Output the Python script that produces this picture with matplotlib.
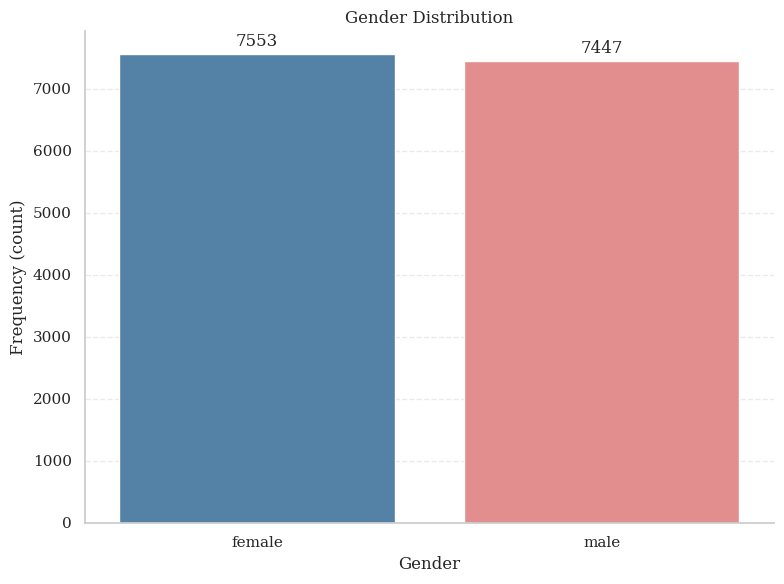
import matplotlib
matplotlib.use("Agg")
import matplotlib.pyplot as plt
import seaborn as sns
import pandas as pd

categories = ["female", "male"]
counts = [7553, 7447]
colors = ["steelblue", "lightcoral"]

sns.set_theme(style="whitegrid")
plt.rcParams['font.family'] = ['DejaVu Serif']

df = pd.DataFrame({"Gender": categories, "count": counts})
fig, ax = plt.subplots(figsize=(7.84, 5.84), dpi=100)
sns.barplot(data=df, x="Gender", y="count", hue="Gender", palette=colors, ax=ax, legend=False)
for p, v in zip(ax.patches, counts):
    ax.annotate(f"{v}", (p.get_x() + p.get_width() / 2, p.get_height()),
                ha="center", va="bottom", xytext=(0, 3), textcoords="offset points",
                fontsize=12, color="#262626")
ax.set_title("Gender Distribution", fontsize=12)
ax.set_xlabel("Gender", fontsize=12)
ax.set_ylabel("Frequency (count)", fontsize=12)
ax.tick_params(labelsize=11)
ax.grid(axis="x", visible=False)
ax.grid(axis="y", linestyle="--", alpha=0.4)
sns.despine(ax=ax)
for s in ["left", "bottom"]:
    ax.spines[s].set_color("#cccccc")
    ax.spines[s].set_linewidth(1.25)
fig.subplots_adjust(left=0.1084, right=0.987, bottom=0.1045, top=0.947)
fig.savefig("out.png", dpi=100)
